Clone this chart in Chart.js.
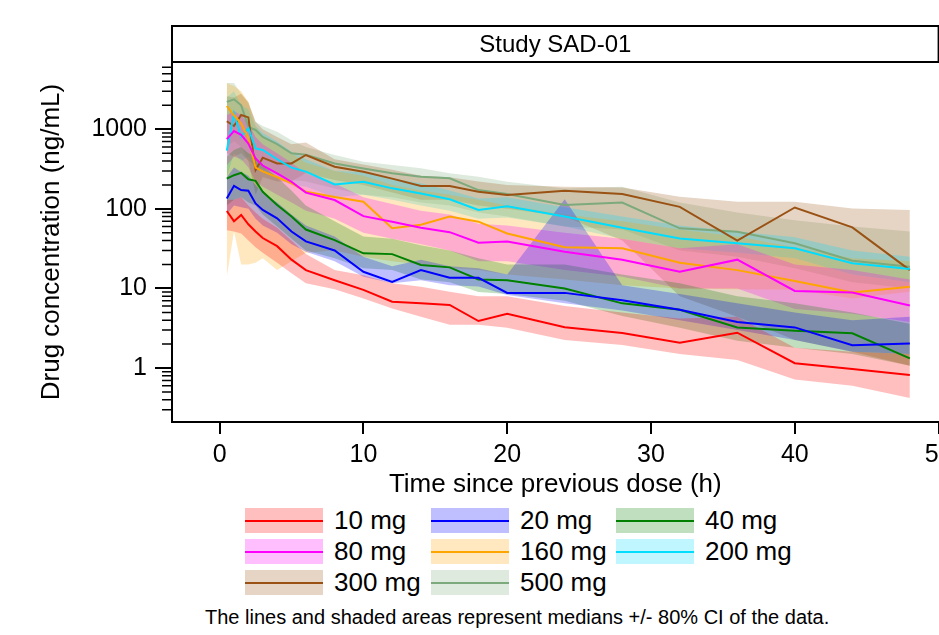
<!DOCTYPE html>
<html>
<head>
<meta charset="utf-8">
<script src="https://cdn.jsdelivr.net/npm/chart.js@4.4.0/dist/chart.umd.min.js"></script>
<style>
html,body{margin:0;padding:0;background:#fff;overflow:hidden;width:939px;height:635px;}
#wrap{position:absolute;left:0;top:0;width:1000px;height:500px;}
.lg-box{position:absolute;width:78px;height:25px;}
.lg-line{position:absolute;left:0;right:0;top:11.5px;height:2px;}
.lg-text{position:absolute;font-family:"Liberation Sans",Arial,sans-serif;font-size:26px;line-height:25px;color:#000;white-space:nowrap;}
#caption{position:absolute;left:205px;top:605px;font-family:"Liberation Sans",Arial,sans-serif;font-size:20px;line-height:24px;color:#000;white-space:nowrap;}
</style>
</head>
<body>
<div id="wrap"><canvas id="c" width="1000" height="500"></canvas></div>
<div id="legend"></div>
<div id="caption"></div>
<script>
// ---------- DATA ----------
const stripLabel = "Study SAD-01";
const xTitle = "Time since previous dose (h)";
const yTitle = "Drug concentration (ng/mL)";
const captionText = "The lines and shaded areas represent medians +/- 80% CI of the data.";

const times = [0.5,1,1.5,2,2.5,3,4,5,6,8,10,12,14,16,18,20,24,28,32,36,40,44,48];
const xTicks = [0,10,20,30,40,50];
const yTicks = [1,10,100,1000];
const yMinorTicks = [0.3,0.4,0.5,0.6,0.7,0.8,0.9,2,3,4,5,6,7,8,9,20,30,40,50,60,70,80,90,200,300,400,500,600,700,800,900,2000,3000,4000,5000,6000];

const doseLabels = ["10 mg","20 mg","40 mg","80 mg","160 mg","200 mg","300 mg","500 mg"];
const lineColors = ["#FF0000","#0000FF","#008000","#FF00FF","#FFA500","#00DDFF","#9A5214","#7DAA7D"];
const fillColors = ["rgba(255,0,0,0.25)","rgba(0,0,255,0.25)","rgba(0,128,0,0.25)","rgba(255,0,255,0.25)","rgba(255,165,0,0.25)","rgba(0,221,255,0.25)","rgba(154,82,20,0.25)","rgba(125,170,125,0.25)"];

const med10  = [94,70,84,64,52,43,34,23,17,12.7,9.6,6.8,6.5,6.2,3.9,4.8,3.25,2.75,2.08,2.78,1.15,0.97,0.82];
const lo10   = [54,52,49,40,33,28,21,15.5,11.6,9.8,7.5,5.6,4.4,3.5,3.5,3.2,2.25,1.95,1.5,1.26,0.72,0.6,0.42];
const hi10   = [130,130,140,110,90,75,58,40,27,17,14.7,11.6,10.5,9.1,8,8,6,5,4.2,4.4,1.8,1.6,1.5];

const med20  = [135,195,172,169,117,97,76,52,39,30,16.2,12.1,17,13.6,13.6,8.8,8.8,7.1,5.4,3.8,3.24,1.94,2.04];
const lo20   = [85,110,105,100,75,62,50,36,29,22,14,11.6,12.7,11,10.6,8.3,6.5,5.3,4.0,3.0,2.25,1.6,1.5];
const hi20   = [250,330,290,260,200,160,120,85,62,45,25,19,23,19,18,15,132,11,8.5,6.5,5,4,4.4];

const med40  = [240,265,283,235,225,164,112,80,55,40.5,27.6,27,19.7,18.4,13,12.7,10,6.5,5.4,3.24,2.94,2.73,1.32];
const lo40   = [110,130,140,120,110,85,60,42,30,24,18,17,13,12,9,8.5,7,4.5,3.2,2.2,1.8,1.5,1.07];
const hi40   = [450,550,600,500,450,350,250,170,110,70,45,42,35,30,24,20,20,15,11.6,8,6.5,5,3.6];

const med80  = [753,950,850,660,430,350,280,219,160,129,81,69,58,51,37.5,39,29,23,16.2,23,9.3,8.9,6.1];
const lo80   = [350,450,420,330,220,190,150,120,95,75,50,42,36,30,22,22,17,14,10,10,5.5,4.8,3.8];
const hi80   = [1500,1700,1500,1200,800,650,500,380,280,210,140,115,95,85,65,62,50,42,32,36,20,17,13];

const med160 = [1960,1500,1180,770,330,295,250,210,164,141,123,57,63,80,69,49,33,32,21,17,12.4,8.9,10.5];
const lo160  = [14,52,20,20,21,24,17,22,28,30,25,22,20,18,17,15,13,11,10,9.8,9.6,7.5,9.1];
const hi160  = [3800,3500,3000,2200,1100,800,650,500,380,300,260,200,170,150,130,110,85,70,55,45,33,24,22];

const med200 = [540,1580,805,1030,575,550,420,330,294,203,219,181,156,132,97,108,80,58,42.5,37,32,20.7,17.5];
const lo200  = [250,500,400,450,300,300,250,200,190,140,150,130,110,95,75,78,60,42,32,28,24,15,12];
const hi200  = [2500,3000,2000,1800,1100,900,700,520,420,300,290,240,210,170,135,140,105,80,62,52,44,30,25];

const med300 = [1260,1100,1510,1410,307,440,372,372,475,338,293,240,194,194,164,149,169,154,106,40,104,58.5,17];
const lo300  = [500,450,500,400,150,250,220,220,280,230,200,160,130,130,110,100,80,40,8,4.4,2.25,1.6,1.07];
const hi300  = [2600,2500,2800,2200,1240,1000,800,650,680,420,360,310,260,250,220,200,190,185,142,123,123,101,97];

const med500 = [2210,2380,2000,1070,980,800,650,500,480,372,322,280,253,242,172,154,112,120,57,51.5,37,22.3,18.7];
const lo500  = [600,700,600,400,350,320,280,230,220,180,150,140,120,110,90,80,60,55,30,25,18,12,10];
const hi500  = [3800,3800,2800,2130,1240,1100,930,730,600,475,390,355,323,280,253,219,180,190,120,90,72,60,52];

const medians = [med10,med20,med40,med80,med160,med200,med300,med500];
const lowers  = [lo10,lo20,lo40,lo80,lo160,lo200,lo300,lo500];
const uppers  = [hi10,hi20,hi40,hi80,hi160,hi200,hi300,hi500];

// ---------- CHART ----------
const FONT = '"Liberation Sans", Arial, sans-serif';
const pts = arr => times.map((t,j) => ({x:t, y:arr[j]}));

const datasets = [];
// median lines first (drawn on top)
medians.forEach((m,i) => {
  datasets.push({label: doseLabels[i], data: pts(m), borderColor: lineColors[i], borderWidth: 2,
    pointRadius: 0, fill: false, tension: 0, order: 0});
});
// bands
medians.forEach((m,i) => {
  const loIdx = datasets.length;
  datasets.push({label: doseLabels[i] + ' lo', data: pts(lowers[i]), borderWidth: 0, borderColor: 'rgba(0,0,0,0)',
    pointRadius: 0, fill: false, tension: 0, order: 1});
  datasets.push({label: doseLabels[i] + ' hi', data: pts(uppers[i]), borderWidth: 0, borderColor: 'rgba(0,0,0,0)',
    backgroundColor: fillColors[i], pointRadius: 0, fill: {target: loIdx}, tension: 0, order: 1});
});

const decorPlugin = {
  id: 'decor',
  afterDraw(chart) {
    const {ctx, chartArea: a} = chart;
    const ys = chart.scales.y;
    ctx.save();
    // strip
    const stripTop = 26;
    ctx.fillStyle = '#fff';
    ctx.fillRect(a.left, stripTop, a.right - a.left, a.top - stripTop);
    ctx.lineWidth = 2;
    ctx.strokeStyle = '#000';
    ctx.strokeRect(a.left, stripTop, a.right - a.left, a.top - stripTop);
    ctx.fillStyle = '#000';
    ctx.font = '24px ' + FONT;
    ctx.textAlign = 'center';
    ctx.textBaseline = 'middle';
    ctx.fillText(stripLabel, (a.left + a.right) / 2, (stripTop + a.top) / 2 + 1);
    // minor ticks
    ctx.lineWidth = 1.5;
    ctx.beginPath();
    yMinorTicks.forEach(v => {
      const y = ys.getPixelForValue(v);
      ctx.moveTo(a.left - 10, y);
      ctx.lineTo(a.left, y);
    });
    ctx.stroke();
    ctx.restore();
  }
};

new Chart(document.getElementById('c'), {
  type: 'line',
  data: {datasets},
  plugins: [decorPlugin],
  options: {
    responsive: false,
    animation: false,
    devicePixelRatio: 1,
    layout: {padding: {left: 0, right: 61.4, top: 62, bottom: 0}},
    plugins: {legend: {display: false}, tooltip: {enabled: false}},
    scales: {
      x: {
        type: 'linear', min: -3.31, max: 50,
        afterBuildTicks: s => { s.ticks = xTicks.map(v => ({value: v})); },
        afterFit: s => { s.height = 78; },
        ticks: {font: {family: FONT, size: 25}, color: '#000', padding: 6, maxRotation: 0, autoSkip: false},
        grid: {drawOnChartArea: false, tickLength: 12, lineWidth: 2, color: '#000'},
        border: {display: true, width: 2, color: '#000'},
        title: {display: true, text: xTitle, font: {family: FONT, size: 26}, color: '#000', padding: {top: 0, bottom: 0}}
      },
      y: {
        type: 'logarithmic', min: 0.21, max: 7000,
        afterBuildTicks: s => { s.ticks = yTicks.map(v => ({value: v})); },
        afterFit: s => { s.width = 172; },
        ticks: {font: {family: FONT, size: 25}, color: '#000', padding: 8, callback: v => String(v), autoSkip: false},
        grid: {drawOnChartArea: false, tickLength: 17, lineWidth: 2, color: '#000'},
        border: {display: true, width: 2, color: '#000'},
        title: {display: true, text: yTitle, font: {family: FONT, size: 26}, color: '#000', padding: {top: 36, bottom: 0}}
      }
    }
  }
});

// ---------- LEGEND ----------
const legend = document.getElementById('legend');
const colLeft = [245, 431, 616];
const rowTop = [508, 539, 570];
doseLabels.forEach((lab, i) => {
  const r = Math.floor(i / 3), c = i % 3;
  const box = document.createElement('div');
  box.className = 'lg-box';
  box.style.left = colLeft[c] + 'px';
  box.style.top = rowTop[r] + 'px';
  box.style.background = fillColors[i];
  const ln = document.createElement('div');
  ln.className = 'lg-line';
  ln.style.background = lineColors[i];
  box.appendChild(ln);
  legend.appendChild(box);
  const tx = document.createElement('div');
  tx.className = 'lg-text';
  tx.style.left = (colLeft[c] + 89) + 'px';
  tx.style.top = rowTop[r] + 'px';
  tx.textContent = lab;
  legend.appendChild(tx);
});
document.getElementById('caption').textContent = captionText;
</script>
</body>
</html>
